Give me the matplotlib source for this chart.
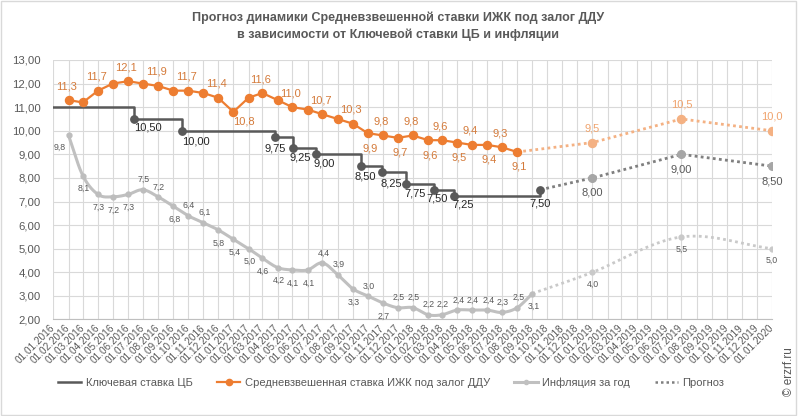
import datetime as dt
import numpy as np
import matplotlib
matplotlib.use("Agg")
import matplotlib.pyplot as plt
import matplotlib.dates as mdates
from matplotlib.lines import Line2D
from matplotlib.patches import Rectangle
from matplotlib import font_manager
from matplotlib.font_manager import FontProperties


def pick_font(names):
    for n in names:
        try:
            font_manager.findfont(FontProperties(family=n), fallback_to_default=False)
            return n
        except ValueError:
            pass
    return "DejaVu Sans"


FONT = pick_font(["Liberation Sans Narrow", "Liberation Sans", "DejaVu Sans"])
plt.rcParams["font.family"] = [FONT, "DejaVu Sans"]

# ---- data ----
# monthly values (month-end, plotted on the 1st of the following month)
ipoteka_dates = [dt.date(2016 + (m // 12), m % 12 + 1, 1) for m in range(1, 32)]
ipoteka = [11.3, 11.2, 11.7, 12.0, 12.1, 12.0, 11.9, 11.7, 11.7, 11.6, 11.4, 10.8,
           11.4, 11.6, 11.3, 11.0, 10.9, 10.7, 10.5, 10.3, 9.9, 9.8, 9.7, 9.8,
           9.6, 9.6, 9.5, 9.4, 9.4, 9.3, 9.1]

infl_dates = [dt.date(2016 + (m // 12), m % 12 + 1, 1) for m in range(1, 33)]
inflation = [9.8, 8.1, 7.3, 7.2, 7.3, 7.5, 7.2, 6.8, 6.4, 6.1, 5.8, 5.4,
             5.0, 4.6, 4.2, 4.1, 4.1, 4.4, 3.9, 3.3, 3.0, 2.7, 2.5, 2.5,
             2.2, 2.2, 2.4, 2.4, 2.4, 2.3, 2.5, 3.1]

key_dates = [dt.date(2016, 1, 1), dt.date(2016, 6, 14), dt.date(2016, 9, 19),
             dt.date(2017, 3, 27), dt.date(2017, 5, 2), dt.date(2017, 6, 19),
             dt.date(2017, 9, 18), dt.date(2017, 10, 30), dt.date(2017, 12, 18),
             dt.date(2018, 2, 12), dt.date(2018, 3, 26), dt.date(2018, 9, 17)]
key_rate = [11.00, 10.50, 10.00, 9.75, 9.25, 9.00, 8.50, 8.25, 7.75, 7.50, 7.25, 7.50]

fc_dates = [dt.date(2019, 1, 1), dt.date(2019, 7, 1), dt.date(2020, 1, 1)]
fc_ipoteka = [9.5, 10.5, 10.0]
fc_key = [8.00, 9.00, 8.50]
fc_infl = [4.0, 5.5, 5.0]

title = ("Прогноз динамики Средневзвешенной ставки ИЖК под залог ДДУ\n"
         "в зависимости от Ключевой ставки ЦБ и инфляции")
legend_labels = ["Ключевая ставка ЦБ", "Средневзвешенная ставка ИЖК под залог ДДУ",
                 "Инфляция за год", "Прогноз"]

# ---- label placement (pixels) ----
ip_lbl = ["a", None, "a", None, "a", None, "a", None, "a", None, "a", "br",
          None, "a", None, "a", None, "a", None, "a", "b", "a", "b", "a",
          "b", "a", "b", "a", "b", "a", "b"]
ip_off = {"a": (-2, 14), "b": (2, -15), "br": (11, -10)}

inf_lbl = ["l", "b", "b", "b", "b", "a", "a", "b", "a", "a", "b", "b",
           "b", "b", "b", "b", "b", "a", "a", "b", "a", "b", "a", "a",
           "a", "a", "a", "a", "a", "a", "a", "b"]
inf_off = {"a": (1, 10), "b": (1, -13), "l": (-9, -12)}

key_dx = [13, 14, 0, 7, 8, 4, 9, 9, 4, 9, 0]
key_dy = [-9, -11, -12, -9, -9, -10, -11, -10, -9, -9, -14]

C_OR = "#ED7D31"
C_OR_T = "#D47A3A"
C_OR_F = "#F4B183"
C_KEY = "#595959"
C_INF = "#C0C0C0"
C_TXT = "#595959"
C_GRID = "#D9D9D9"


def fmt1(v):
    return f"{v:.1f}".replace(".", ",")


def fmt2(v):
    return f"{v:.2f}".replace(".", ",")


def catmull_rom(x, y, steps=16):
    x = np.asarray(x, float)
    y = np.asarray(y, float)
    px = np.concatenate([[2 * x[0] - x[1]], x, [2 * x[-1] - x[-2]]])
    py = np.concatenate([[2 * y[0] - y[1]], y, [2 * y[-1] - y[-2]]])
    t = np.linspace(0, 1, steps, endpoint=False)
    ox, oy = [], []
    for i in range(1, len(px) - 2):
        for p, o in ((px, ox), (py, oy)):
            p0, p1, p2, p3 = p[i - 1], p[i], p[i + 1], p[i + 2]
            o.extend(0.5 * (2 * p1 + (-p0 + p2) * t + (2 * p0 - 5 * p1 + 4 * p2 - p3) * t ** 2
                            + (-p0 + 3 * p1 - 3 * p2 + p3) * t ** 3))
    ox.append(x[-1])
    oy.append(y[-1])
    return np.array(ox), np.array(oy)


fig = plt.figure(figsize=(7.98, 4.16), dpi=100)
ax = fig.add_axes([0.0668, 0.232, 0.9006, 0.6238])

ipx = mdates.date2num(ipoteka_dates)
infx = mdates.date2num(infl_dates)
keyx = mdates.date2num(key_dates)
fcx = mdates.date2num(fc_dates)

# forecasts (dotted)
sx, sy = catmull_rom(np.r_[infx[-1], fcx], np.r_[inflation[-1], fc_infl])
ax.plot(sx, sy, color="#C9C9C9", lw=2, ls=(0, (1, 1.2)), zorder=2)
ax.plot(fcx, fc_infl, "o", color="#C9C9C9", ms=3.5, zorder=3)
ax.plot(np.r_[keyx[-1], fcx], np.r_[key_rate[-1], fc_key], color="#7F7F7F",
        lw=2, ls=(0, (1, 1.2)), zorder=2)
ax.plot(fcx, fc_key, "o", color="#A6A6A6", ms=5.5, zorder=3)
ax.plot(np.r_[ipx[-1], fcx], np.r_[ipoteka[-1], fc_ipoteka], color=C_OR_F,
        lw=2, ls=(0, (1, 1.2)), zorder=2)
ax.plot(fcx, fc_ipoteka, "o", color=C_OR_F, ms=5.8, zorder=3)

# inflation (smoothed)
sx, sy = catmull_rom(infx, inflation)
ax.plot(sx, sy, color=C_INF, lw=2.2, zorder=3)
ax.plot(infx, inflation, "o", color="#BDBDBD", ms=3.5, zorder=3)

# key rate (step)
ax.step(keyx, key_rate, where="post", color=C_KEY, lw=1.8, zorder=4)
ax.plot(keyx[1:], key_rate[1:], "o", color=C_KEY, ms=5.3, zorder=4)

# mortgage rate
ax.plot(ipx, ipoteka, "-o", color=C_OR, lw=1.6, ms=5.8, zorder=5)

# labels
LBL = 8
for x, v, p in zip(ipx, ipoteka, ip_lbl):
    if p:
        ax.annotate(fmt1(v), (x, v), xytext=ip_off[p], textcoords="offset pixels",
                    ha="center", va="center", fontsize=LBL, color=C_OR_T, zorder=6)
for x, v, p in zip(infx, inflation, inf_lbl):
    ax.annotate(fmt1(v), (x, v), xytext=inf_off[p], textcoords="offset pixels",
                ha="center", va="center", fontsize=6.3, color=C_TXT, zorder=6)
for x, v, dx, dy in zip(keyx[1:], key_rate[1:], key_dx, key_dy):
    ax.annotate(fmt2(v), (x, v), xytext=(dx, dy), textcoords="offset pixels",
                ha="center", va="center", fontsize=LBL, color="#262626", zorder=6)
for x, v in zip(fcx, fc_ipoteka):
    ax.annotate(fmt1(v), (x, v), xytext=(0, 14), textcoords="offset pixels",
                ha="center", va="center", fontsize=LBL, color="#F0A46E", zorder=6)
for x, v in zip(fcx, fc_key):
    ax.annotate(fmt2(v), (x, v), xytext=(0, -15), textcoords="offset pixels",
                ha="center", va="center", fontsize=LBL, color=C_TXT, zorder=6)
for x, v in zip(fcx, fc_infl):
    ax.annotate(fmt1(v), (x, v), xytext=(0, -12), textcoords="offset pixels",
                ha="center", va="center", fontsize=6.3, color=C_TXT, zorder=6)

# axes
ax.set_xlim(mdates.date2num(dt.date(2016, 1, 1)), mdates.date2num(dt.date(2020, 1, 1)))
ax.set_ylim(2, 13)
ax.set_yticks(np.arange(2, 14, 1))
ax.yaxis.set_major_formatter(plt.FuncFormatter(lambda v, _: fmt2(v)))
ax.xaxis.set_major_locator(mdates.MonthLocator())
ax.xaxis.set_major_formatter(mdates.DateFormatter("%d.%m.%Y"))
ax.grid(True, color=C_GRID, lw=0.8, zorder=0)
ax.set_axisbelow(True)
for s in ["top", "right", "left"]:
    ax.spines[s].set_visible(False)
ax.spines["bottom"].set_color("#BFBFBF")
ax.tick_params(axis="both", length=0, colors=C_TXT)
ax.tick_params(axis="y", labelsize=8.2, pad=9)
ax.tick_params(axis="x", labelsize=7.2, pad=5)
plt.setp(ax.get_xticklabels(), rotation=45, ha="right", va="center", rotation_mode="anchor")

fig.text(0.499, 0.936, title, ha="center", va="center", fontsize=9,
         fontweight="bold", color=C_TXT, linespacing=1.45)

handles = [Line2D([], [], color=C_KEY, lw=1.8),
           Line2D([], [], color=C_OR, lw=1.6, marker="o", ms=4.5),
           Line2D([], [], color=C_INF, lw=2.2, marker="o", ms=3),
           Line2D([], [], color="#7F7F7F", lw=1.8, ls=(0, (1, 1.2)))]
fig.legend(handles, legend_labels, loc="center", bbox_to_anchor=(0.490, 0.079), ncol=4,
           frameon=False, fontsize=8, handlelength=2.1, handletextpad=0.4,
           columnspacing=2.2, labelcolor=C_TXT)

fig.text(0.989, 0.106, "© erzrf.ru", rotation=90, ha="center", va="center",
         fontsize=8.5, color=C_TXT)
fig.patches.append(Rectangle((0.001, 0.003), 0.997, 0.994, transform=fig.transFigure,
                             fill=False, edgecolor=C_GRID, lw=1))

fig.savefig("out.png", dpi=100)
